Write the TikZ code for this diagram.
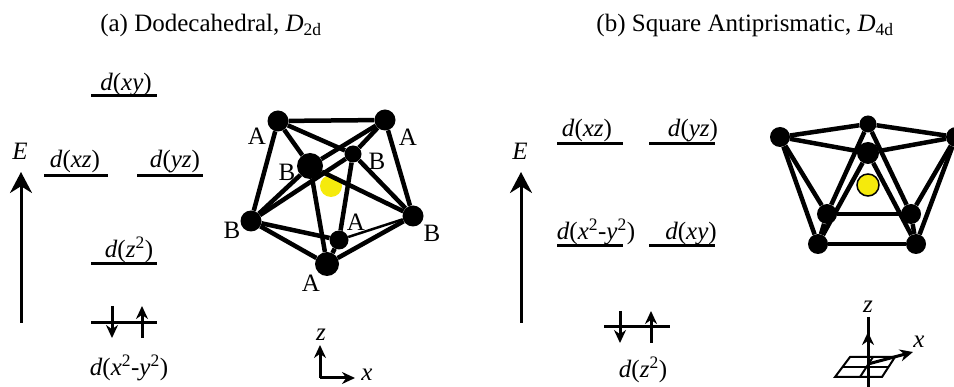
\documentclass[tikz,border=0pt]{standalone}
\usepackage{fontspec}
\setmainfont{Liberation Serif}
\usetikzlibrary{arrows.meta}
\definecolor{metal}{HTML}{F5EA0C}
\tikzset{
    >={Stealth[length=13pt,width=12pt]},
    bigtip/.style={-{Stealth[length=21pt,width=22pt]}},
    txt/.style={inner sep=0pt, font=\fontsize{25}{28}\selectfont},
    lab/.style={txt, anchor=base},
    levelbar/.style={fill=black, inner sep=0pt, minimum width=66pt, minimum height=3pt},
    atom/.style={circle, fill=black, inner sep=0pt, minimum size=#1},
    centre/.style={circle, fill=metal, draw=black, inner sep=0pt, minimum size=#1},
    bond/.style={line width=4.5pt},
    axis/.style={line width=3pt},
}
\begin{document}
\begin{tikzpicture}[x=1pt, y=-1pt]
    \useasboundingbox (0,0) rectangle (954,387);
    % Titles
    \node[lab] (titlea) at (211,32) {(a) Dodecahedral, \textit{D}\textsubscript{2d}};
    \node[lab] (titleb) at (745,32) {(b) Square Antiprismatic, \textit{D}\textsubscript{4d}};
    % Levels (a)
    \node[levelbar] (axy) at (124,96) {}; \node[levelbar, minimum width=64pt] (axz) at (76,176) {};
    \node[levelbar] (ayz) at (170,176) {}; \node[levelbar] (az) at (124,264) {};
    \node[levelbar] (axy2) at (124,323) {};
    \node[lab] (laxy) at (126,91) {\textit{d}(\textit{xy})};
    \node[lab] (laxz) at (75,168) {\textit{d}(\textit{xz})};
    \node[lab] (layz) at (175,168) {\textit{d}(\textit{yz})};
    \node[lab] (laz) at (129,258) {\textit{d}(\textit{z}\textsuperscript{2})};
    \node[lab] (laxy2) at (129,376) {\textit{d}(\textit{x}\textsuperscript{2}-\textit{y}\textsuperscript{2})};
    % Levels (b)
    \node[levelbar] (bxz) at (590,144) {}; \node[levelbar] (byz) at (682,144) {};
    \node[levelbar] (bxy2) at (590,246) {}; \node[levelbar] (bxy) at (682,246) {};
    \node[levelbar] (bz) at (637,327) {};
    \node[lab] (lbxz) at (587,137) {\textit{d}(\textit{xz})};
    \node[lab] (lbyz) at (693,137) {\textit{d}(\textit{yz})};
    \node[lab] (lbxy2) at (596,240) {\textit{d}(\textit{x}\textsuperscript{2}-\textit{y}\textsuperscript{2})};
    \node[lab] (lbxy) at (691,240) {\textit{d}(\textit{xy})};
    \node[lab] (lbz) at (643,378) {\textit{d}(\textit{z}\textsuperscript{2})};
    % Energy arrows
    \coordinate (ea0) at (21,323); \coordinate (ea1) at (21,172);
    \coordinate (eb0) at (521,323); \coordinate (eb1) at (521,172);
    \draw[bigtip, axis] (ea0) -- (ea1); \draw[bigtip, axis] (eb0) -- (eb1);
    \node[txt] (ea) at (20,151) {\textit{E}}; \node[txt] (eb) at (520,151) {\textit{E}};
    % Electrons
    \coordinate (sa0) at (112,306); \coordinate (sa1) at (112,338);
    \coordinate (sa2) at (142,338); \coordinate (sa3) at (142,306);
    \coordinate (sb0) at (620,311); \coordinate (sb1) at (620,343);
    \coordinate (sb2) at (651,343); \coordinate (sb3) at (651,311);
    \draw[->, axis] (sa0) -- (sa1); \draw[->, axis] (sa2) -- (sa3);
    \draw[->, axis] (sb0) -- (sb1); \draw[->, axis] (sb2) -- (sb3);
    % Dodecahedron
    \node[centre=22pt, draw=none] (ma) at (331,186) {};
    \node[atom=21pt] (a1) at (278,121) {}; \node[atom=21pt] (a2) at (385,120) {};
    \node[atom=17pt] (b1) at (353,154) {}; \node[atom=26pt] (b2) at (310,166) {};
    \node[atom=21pt] (b3) at (251,221) {}; \node[atom=21pt] (b4) at (413,216) {};
    \node[atom=19pt] (a3) at (339,240) {}; \node[atom=24pt] (a4) at (327,264) {};
    \foreach \p/\q in {a1/a2, a1/b3, a2/b4, a1/b1, a1/b2, a2/b1, a2/b2, b2/b3, b2/b4,
        b2/a4, b1/b3, b1/b4, b1/a3, b3/a3, b3/a4, b4/a4, a3/a4}
        \draw[bond] (\p) -- (\q);
    \draw[line width=2.5pt] (a3) -- (b4);
    \node[txt] (la1) at (257,136) {A}; \node[txt] (la2) at (408,137) {A};
    \node[txt] (lb1) at (377,161) {B}; \node[txt] (lb2) at (287,172) {B};
    \node[txt] (lb3) at (232,230) {B}; \node[txt] (lb4) at (432,233) {B};
    \node[txt] (la3) at (356,222) {A}; \node[txt] (la4) at (311,283) {A};
    % Antiprism
    \node[centre=22pt, line width=1.5pt] (mb) at (868,185) {};
    \node[atom=17pt] (c1) at (868,124) {}; \node[atom=20pt] (c2) at (780,137) {};
    \node[atom=20pt] (c3) at (956,137) {}; \node[atom=22pt] (c4) at (868,153) {};
    \node[atom=20pt] (c5) at (827,214) {}; \node[atom=20pt] (c6) at (911,214) {};
    \node[atom=20pt] (c7) at (818,244) {}; \node[atom=20pt] (c8) at (916,244) {};
    \foreach \p/\q in {c1/c2, c1/c3, c4/c2, c4/c3, c2/c5, c2/c7, c3/c6, c3/c8, c1/c5,
        c1/c6, c4/c7, c4/c8, c5/c6, c7/c8, c5/c7, c6/c8}
        \draw[bond] (\p) -- (\q);
    % Axes (a)
    \coordinate (oa) at (320,378); \coordinate (za) at (320,345); \coordinate (xa) at (355,378);
    \draw[->, axis] (oa) -- (za); \draw[->, axis] (oa) -- (xa);
    \node[txt] (lza) at (321,335) {\textit{z}}; \node[txt] (lxa) at (367,375) {\textit{x}};
    % Axes (b)
    \coordinate (p1) at (850,357); \coordinate (p2) at (895,357); \coordinate (p3) at (882,377); \coordinate (p4) at (835,377);
    \coordinate (m1) at (873,357); \coordinate (m2) at (860,377); \coordinate (m3) at (888,367); \coordinate (m4) at (843,367);
    \coordinate (ob) at (868,364); \coordinate (ztop) at (868,317); \coordinate (zmid) at (868,332);
    \coordinate (zbot) at (868,387); \coordinate (xb) at (913,352);
    \draw[line width=2pt] (p1) -- (p2) -- (p3) -- (p4) -- cycle;
    \draw[line width=2pt] (m1) -- (m2); \draw[line width=2pt] (m3) -- (m4);
    \draw[axis] (ztop) -- (zbot); \draw[->, axis] (zbot) -- (zmid);
    \draw[->, axis] (ob) -- (xb);
    \node[txt] (lzb) at (868,307) {\textit{z}}; \node[txt] (lxb) at (919,342) {\textit{x}};
\end{tikzpicture}
\end{document}
